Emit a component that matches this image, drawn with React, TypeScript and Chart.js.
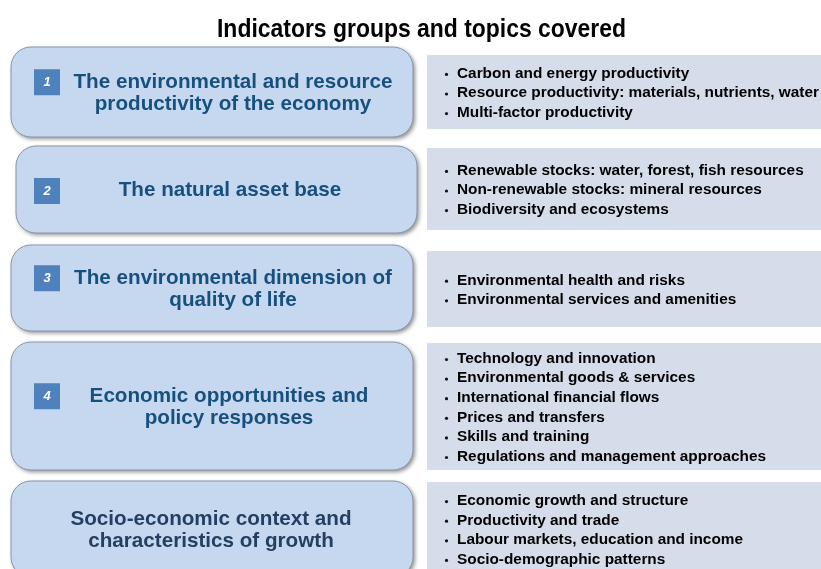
import React, { useEffect, useRef } from "react";
import { Chart, registerables } from "chart.js";

Chart.register(...registerables);

// ---------- data ----------
const TITLE = "Indicators groups and topics covered";
const GROUP_NUMBERS = ["1", "2", "3", "4", ""];
const GROUP_TITLES = [
  ["The environmental and resource", "productivity of the economy"],
  ["The natural asset base"],
  ["The environmental dimension of", "quality of life"],
  ["Economic opportunities and", "policy responses"],
  ["Socio-economic context and", "characteristics of growth"],
];
const TOPICS_1 = [
  "Carbon and energy productivity",
  "Resource productivity: materials, nutrients, water",
  "Multi-factor productivity",
];
const TOPICS_2 = [
  "Renewable stocks: water, forest, fish resources",
  "Non-renewable stocks: mineral resources",
  "Biodiversity and ecosystems",
];
const TOPICS_3 = ["Environmental health and risks", "Environmental services and amenities"];
const TOPICS_4 = [
  "Technology and innovation",
  "Environmental goods & services",
  "International financial flows",
  "Prices and transfers",
  "Skills and training",
  "Regulations and management approaches",
];
const TOPICS_5 = [
  "Economic growth and structure",
  "Productivity and trade",
  "Labour markets, education and income",
  "Socio-demographic patterns",
];
const TOPICS = [TOPICS_1, TOPICS_2, TOPICS_3, TOPICS_4, TOPICS_5];

// ---------- layout (scale units = pixels of the 821x569 frame) ----------
const W = 821;
const H = 569;
const LEFT_BOXES = [
  { x0: 11, x1: 413, y0: 47, y1: 137, tx: 233 },
  { x0: 16, x1: 417, y0: 146, y1: 233, tx: 230 },
  { x0: 11, x1: 413, y0: 245, y1: 331, tx: 233 },
  { x0: 11, x1: 413, y0: 342, y1: 470, tx: 229 },
  { x0: 11, x1: 413, y0: 481, y1: 577, tx: 211 },
];
const RIGHT_BOXES = [
  { y0: 55, y1: 129 },
  { y0: 148, y1: 230 },
  { y0: 251, y1: 327 },
  { y0: 343, y1: 470 },
  { y0: 482, y1: 576 },
];
const RIGHT_X0 = 427;
const RIGHT_X1 = 822;
const SQUARE = { x0: 34, size: 26 };

const diagramPlugin = {
  id: "diagram",
  afterDraw(chart: any) {
    const ctx: CanvasRenderingContext2D = chart.ctx;
    const xs = chart.scales.x;
    const ys = chart.scales.y;
    const px = (v: number) => xs.getPixelForValue(v);
    const py = (v: number) => ys.getPixelForValue(v);

    const fitText = (
      text: string,
      x: number,
      y: number,
      font: string,
      factor: number,
      align: CanvasTextAlign,
      color: string
    ) => {
      ctx.save();
      ctx.font = font;
      ctx.fillStyle = color;
      ctx.textBaseline = "middle";
      ctx.textAlign = align;
      ctx.translate(x, y);
      ctx.scale(factor, 1);
      ctx.fillText(text, 0, 0);
      ctx.restore();
    };
    const factorFor = (font: string, sample: string, target: number) => {
      ctx.save();
      ctx.font = font;
      const w = ctx.measureText(sample).width;
      ctx.restore();
      return w > 0 ? target / w : 1;
    };

    const titleFont = 'bold 25px "Liberation Sans Narrow", "Liberation Sans", Arial, sans-serif';
    const groupFont = 'bold 21px "Liberation Sans", Arial, sans-serif';
    const topicFont = 'bold 14px "Liberation Sans", Arial, sans-serif';
    const numFont = 'italic bold 13px "Liberation Sans", Arial, sans-serif';
    const fTitle = factorFor(titleFont, TITLE, 409);
    const fGroup = factorFor(groupFont, GROUP_TITLES[0][0], 319);
    const fTopic = factorFor(topicFont, TOPICS_1[1], 362);

    // title
    fitText(TITLE, px(421.5), py(30), titleFont, fTitle, "center", "#000000");

    // right boxes
    RIGHT_BOXES.forEach((b, i) => {
      const x0 = px(RIGHT_X0), x1 = px(RIGHT_X1), y0 = py(b.y0), y1 = py(b.y1);
      ctx.save();
      ctx.fillStyle = "#d5dcea";
      ctx.fillRect(x0, y0, x1 - x0, y1 - y0);
      ctx.restore();
      const items = TOPICS[i];
      const step = 19.6;
      const cy = (b.y0 + b.y1) / 2 + 1.5;
      items.forEach((t, k) => {
        const ly = cy + (k - (items.length - 1) / 2) * step;
        ctx.save();
        ctx.fillStyle = "#111111";
        ctx.beginPath();
        ctx.arc(px(446.5), py(ly + 0.5), 1.6, 0, Math.PI * 2);
        ctx.fill();
        ctx.restore();
        fitText(t, px(457), py(ly), topicFont, fTopic, "left", "#000000");
      });
    });

    // left boxes
    LEFT_BOXES.forEach((b, i) => {
      const x0 = px(b.x0), x1 = px(b.x1), y0 = py(b.y0), y1 = py(b.y1);
      const r = 20;
      ctx.save();
      ctx.beginPath();
      ctx.roundRect(x0, y0, x1 - x0, y1 - y0, r);
      ctx.shadowColor = "rgba(0,0,0,0.45)";
      ctx.shadowBlur = 4;
      ctx.shadowOffsetX = 2;
      ctx.shadowOffsetY = 2;
      ctx.fillStyle = "#c6d8ef";
      ctx.fill();
      ctx.shadowColor = "transparent";
      ctx.lineWidth = 1;
      ctx.strokeStyle = "#8595a8";
      ctx.stroke();
      ctx.restore();

      const lines = GROUP_TITLES[i];
      const step = 22.5;
      const cy = (b.y0 + b.y1) / 2 + 1;
      const color = i === 4 ? "#243f60" : "#17507d";
      lines.forEach((t, k) => {
        const ly = cy + (k - (lines.length - 1) / 2) * step;
        fitText(t, px(b.tx), py(ly), groupFont, fGroup, "center", color);
      });

      const num = GROUP_NUMBERS[i];
      if (num) {
        const firstY = cy - 1 - ((lines.length - 1) / 2) * step;
        const sy0 = firstY - SQUARE.size / 2 + 1.5;
        ctx.save();
        ctx.fillStyle = "#4f81bd";
        ctx.fillRect(px(SQUARE.x0), py(sy0), SQUARE.size, SQUARE.size);
        ctx.restore();
        fitText(num, px(SQUARE.x0 + SQUARE.size / 2), py(sy0 + SQUARE.size / 2 + 0.5), numFont, 1, "center", "#ffffff");
      }
    });
  },
};

export default function App() {
  const ref = useRef<HTMLCanvasElement | null>(null);
  useEffect(() => {
    document.body.style.margin = "0";
    const canvas = ref.current;
    if (!canvas) return;
    const chart = new Chart(canvas, {
      type: "scatter",
      data: { datasets: [{ data: [] }] },
      options: {
        animation: false,
        responsive: false,
        devicePixelRatio: 1,
        layout: { padding: 0 },
        plugins: { legend: { display: false }, tooltip: { enabled: false }, title: { display: false } },
        scales: {
          x: { type: "linear", min: 0, max: W, display: false },
          y: { type: "linear", min: 0, max: H, reverse: true, display: false },
        },
      },
      plugins: [diagramPlugin],
    });
    return () => chart.destroy();
  }, []);
  return (
    <div style={{ width: W, height: H, background: "#ffffff" }}>
      <canvas ref={ref} width={W} height={H} style={{ display: "block" }} />
    </div>
  );
}
